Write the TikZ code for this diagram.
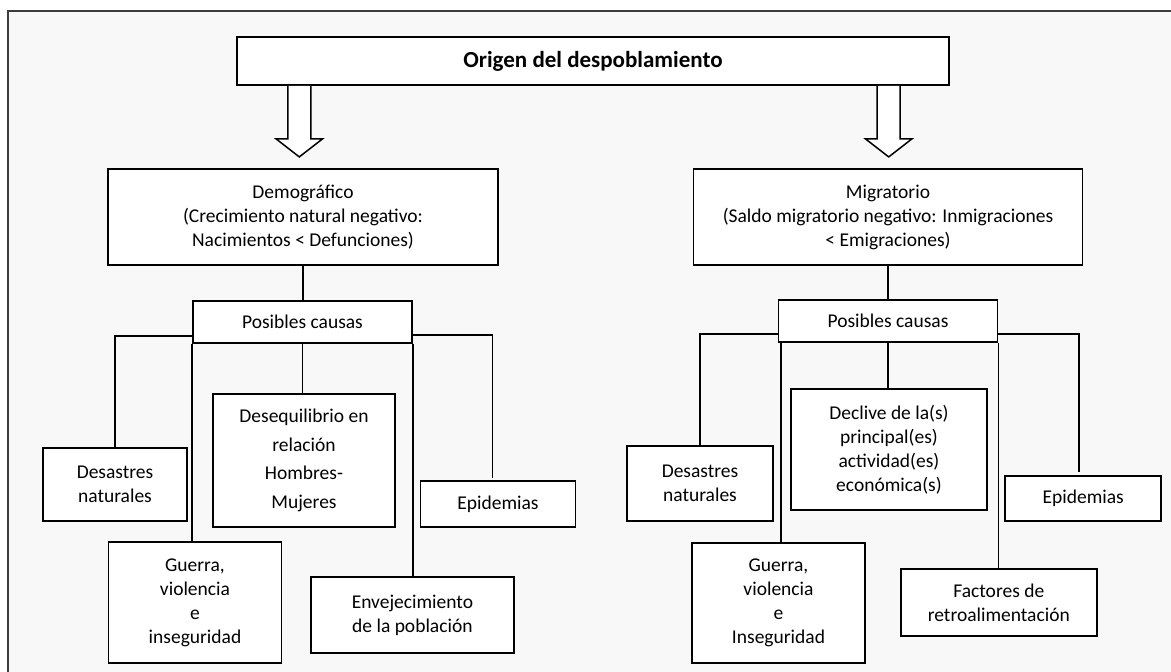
\documentclass[tikz,border=0pt]{standalone}
\usepackage{fontspec}
\setmainfont{Carlito}
\usepackage{tikz}
\usetikzlibrary{calc}
\definecolor{bgcol}{RGB}{248,248,248}
\definecolor{framecol}{RGB}{60,60,60}

\begin{document}
\begin{tikzpicture}[x=1pt, y=-1pt,
  box/.style={draw, fill=white, line width=1.8pt, align=center, inner sep=0pt,
    font=\fontsize{19.5}{24}\selectfont},
  link/.style={line width=1.8pt},
  hollow/.style={draw, fill=white, line width=1.5pt, line join=miter}]
\clip (0,0) rectangle (1171,672);
\draw[framecol, line width=2pt, fill=bgcol] (8,11) rectangle (1190,690);

% top level
\node[box, minimum width=712pt, minimum height=48pt,
  font=\fontsize{23}{28}\bfseries\selectfont] (title) at (593,61) {Origen del despoblamiento};
\node[box, minimum width=390pt, minimum height=96pt] (demo) at (303,217)
  {Demográfico\\(Crecimiento natural negativo:\\Nacimientos < Defunciones)};
\node[box, minimum width=389pt, minimum height=96pt] (migr) at (888,217)
  {Migratorio\\(Saldo migratorio negativo: Inmigraciones\\< Emigraciones)};
\foreach \b/\x in {demo/299.3, migr/888.7}
  \draw[hollow] (title.south -| \x,0) ++(-11.5,0) -- ++(0,53) -- ++(-11.7,0)
    -- ++(23.2,18) -- ++(23.2,-18) -- ++(-11.7,0) -- ++(0,-53);

% left side
\node[box, minimum width=219pt, minimum height=42pt] (causasL) at (302.5,322) {Posibles causas};
\node[box, minimum width=144pt, minimum height=73pt] (desL) at (115,484.5) {Desastres\\naturales};
\node[box, minimum width=173pt, minimum height=121pt] (guerL) at (195,602.5) {Guerra,\\violencia\\e\\inseguridad};
\node[box, minimum width=182pt, minimum height=133pt, font=\fontsize{19.5}{28.5}\selectfont] (deseq) at (304,460.5)
  {Desequilibrio en\\relación\\Hombres-\\Mujeres};
\node[box, minimum width=203pt, minimum height=76pt] (envej) at (412.4,615) {Envejecimiento\\de la población};
\node[box, minimum width=155pt, minimum height=46pt] (epiL) at (498,504) {Epidemias};

\draw[link] (demo.south) -- (demo.south |- causasL.north);
\draw[link] ($(causasL.south west)+(0,-8)$) -| (desL.north);
\draw[link] (causasL.south west) -- (causasL.south west |- guerL.north);
\draw[link] (causasL.south) -- (causasL.south |- deseq.north);
\draw[link] (causasL.south east) -- (causasL.south east |- envej.north);
\draw[link] ($(causasL.south east)+(0,-9)$) -| ($(epiL.north)+(-5.5,-2)$);

% right side
\node[box, minimum width=219pt, minimum height=42pt] (causasR) at (888,321) {Posibles causas};
\node[box, minimum width=146pt, minimum height=75pt] (desR) at (700,483.5) {Desastres\\naturales};
\node[box, minimum width=173pt, minimum height=120pt] (guerR) at (778.5,603) {Guerra,\\violencia\\e\\Inseguridad};
\node[box, minimum width=196pt, minimum height=121pt] (decl) at (889,449.5)
  {Declive de la(s)\\principal(es)\\actividad(es)\\económica(s)};
\node[box, minimum width=196pt, minimum height=67pt] (fact) at (998.8,602.5) {Factores de\\retroalimentación};
\node[box, minimum width=156pt, minimum height=45pt] (epiR) at (1083.2,498.5) {Epidemias};

\draw[link] (migr.south) -- (migr.south |- causasR.north);
\draw[link] ($(causasR.south west)+(0,-9)$) -| (desR.north);
\draw[link] ($(causasR.south west)+(3.5,0)$) -- ($(causasR.south west |- guerR.north)+(3.5,0)$);
\draw[link] (causasR.south) -- (causasR.south |- decl.north);
\draw[link] (causasR.south east) -- (causasR.south east |- fact.north);
\draw[link] ($(causasR.south east)+(0,-9)$) -| ($(epiR.north)+(-4.5,-3)$);
\end{tikzpicture}
\end{document}
